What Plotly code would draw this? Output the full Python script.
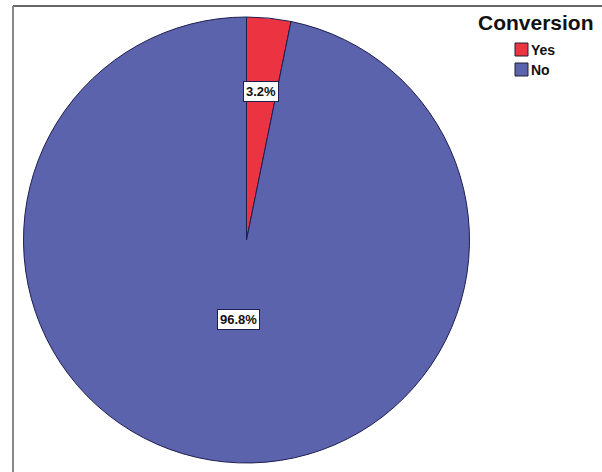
import math
import plotly.graph_objects as go

# ---- data ----
categories = ["Yes", "No"]
percentages = [3.2, 96.8]
colors = ["#EC3341", "#5C63AD"]
legend_title = "Conversion"

W, H = 602, 472
# pie geometry in pixels
left_px, right_px, top_px, bottom_px = 23, 470, 17, 463

fig = go.Figure()
fig.add_trace(go.Pie(
    labels=categories,
    values=percentages,
    sort=False,
    direction="clockwise",
    rotation=0,
    marker=dict(colors=colors, line=dict(color="#1E1E50", width=1)),
    textinfo="none",
    hoverinfo="label+percent",
    showlegend=False,
    domain=dict(x=[left_px / W, right_px / W], y=[1 - bottom_px / H, 1 - top_px / H]),
))

# ---- slice labels as boxed text ----
cx = (left_px + right_px) / 2
cy = (top_px + bottom_px) / 2
r = min(right_px - left_px, bottom_px - top_px) / 2
label_radius_frac = [0.67, 0.357]
annotations = []
start = 0.0
total = sum(percentages)
for cat, val, frac in zip(categories, percentages, label_radius_frac):
    mid = (start + val / 2) / total * 2 * math.pi
    start += val
    px = cx + r * frac * math.sin(mid)
    py = cy - r * frac * math.cos(mid)
    annotations.append(dict(
        x=px / W, y=1 - py / H, xref="paper", yref="paper",
        xanchor="center", yanchor="middle",
        text=f"<b>{val:.1f}%</b>", showarrow=False,
        font=dict(family="Liberation Sans, Arial, sans-serif", size=13, color="#111111"),
        bgcolor="white", bordercolor="#1E1E50", borderwidth=1, borderpad=2,
    ))

# ---- legend (drawn manually) ----
annotations.append(dict(
    x=536 / W, y=1 - 23 / H, xref="paper", yref="paper",
    text=f"<b>{legend_title}</b>", showarrow=False, xanchor="center", yanchor="middle",
    font=dict(family="Liberation Sans, Arial, sans-serif", size=21, color="#111111"),
))
shapes = []
for i, (cat, col) in enumerate(zip(categories, colors)):
    y0 = 43 + 20 * i
    shapes.append(dict(type="rect", xref="paper", yref="paper",
                       x0=515 / W, x1=528 / W, y0=1 - (y0 + 13) / H, y1=1 - y0 / H,
                       fillcolor=col, line=dict(color="#1E1E30", width=1)))
    annotations.append(dict(
        x=529 / W, y=1 - (y0 + 7) / H, xref="paper", yref="paper",
        text=f"<b>{cat}</b>", showarrow=False, xanchor="left", yanchor="middle",
        font=dict(family="Liberation Sans, Arial, sans-serif", size=14, color="#111111"),
    ))

# ---- frame lines ----
shapes.append(dict(type="line", xref="paper", yref="paper",
                   x0=13 / W, x1=1, y0=1 - 6 / H, y1=1 - 6 / H,
                   line=dict(color="#333333", width=1.5)))
shapes.append(dict(type="line", xref="paper", yref="paper",
                   x0=13 / W, x1=13 / W, y0=1 - 6 / H, y1=0,
                   line=dict(color="#888888", width=2)))

fig.update_layout(
    width=W, height=H,
    margin=dict(l=0, r=0, t=0, b=0),
    paper_bgcolor="white", plot_bgcolor="white",
    annotations=annotations, shapes=shapes,
    showlegend=False,
)
fig.write_html("out.html")
